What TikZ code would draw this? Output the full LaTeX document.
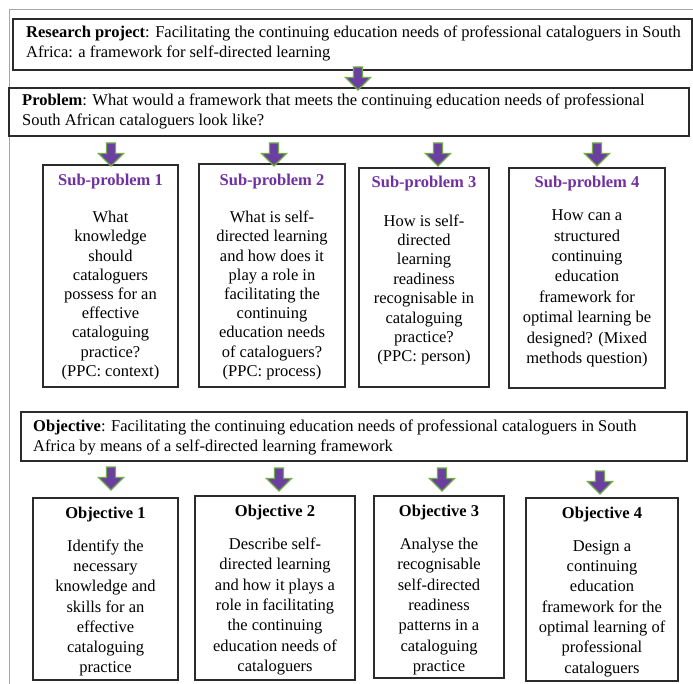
\documentclass[tikz,border=0pt]{standalone}
\usepackage{fontspec}
\setmainfont{Liberation Serif}
\definecolor{hpurple}{HTML}{7030A0}
\definecolor{afill}{HTML}{6B3FA0}
\definecolor{agreen}{HTML}{70AD47}
\definecolor{framegray}{HTML}{A6A6A6}
\definecolor{boxline}{HTML}{2B2B2B}
\tikzset{
  boxnode/.style={draw=boxline, line width=1.3pt, inner sep=0pt, fill=white},
  widetext/.style={anchor=west, align=left, inner sep=0pt, font=\fontsize{16.5}{20}\selectfont},
  headtext/.style={inner sep=0pt, font=\fontsize{16.5}{19}\selectfont\bfseries},
  sphead/.style={headtext, text=hpurple},
  spbody/.style={inner sep=0pt, align=center, font=\fontsize{16.5}{19.2}\selectfont},
  objbody/.style={inner sep=0pt, align=center, font=\fontsize{16.5}{20.3}\selectfont},
  blockarrow/.pic={\filldraw[fill=afill, draw=agreen, line width=1.1pt]
     (-4.5,0) -- (4.5,0) -- (4.5,10.5) -- (12.5,10.5) -- (0,23) -- (-12.5,10.5) -- (-4.5,10.5) -- cycle;}
}
\begin{document}
\begin{tikzpicture}[x=1pt,y=-1pt]
\fill[white] (0,0) rectangle (693,684);
\useasboundingbox (0,0) rectangle (693,684);
% frame
\draw[framegray, line width=1pt] (9,684) -- (9,10) -- (693,10);

% top boxes
\node[boxnode, minimum width=679, minimum height=51] (rp) at (352.5,44.5) {};
\node[boxnode, minimum width=680, minimum height=48] (pb) at (349,112) {};
\node[widetext] (rpt) at (26,43) {\textbf{Research project}: Facilitating the continuing education needs of professional cataloguers in South\\Africa: a framework for self-directed learning};
\node[widetext] (pbt) at (22,111.5) {\textbf{Problem}: What would a framework that meets the continuing education needs of professional\\South African cataloguers look like?};

% sub-problem boxes
\node[boxnode, minimum width=135, minimum height=222] (sp1) at (110.5,276) {};
\node[boxnode, minimum width=146, minimum height=223] (sp2) at (272,275.5) {};
\node[boxnode, minimum width=130, minimum height=219] (sp3) at (424,277.5) {};
\node[boxnode, minimum width=156, minimum height=220] (sp4) at (587,278) {};

\node[sphead] (sp1h) at (110.5,182) {Sub-problem 1};
\node[sphead] (sp2h) at (272,182) {Sub-problem 2};
\node[sphead] (sp3h) at (424,184) {Sub-problem 3};
\node[sphead] (sp4h) at (587,184) {Sub-problem 4};

\node[spbody] (sp1t) at (110.5,295.5) {What\\knowledge\\should\\cataloguers\\possess for an\\effective\\cataloguing\\practice?\\(PPC: context)};
\node[spbody] (sp2t) at (272,295.5) {What is self-\\directed learning\\and how does it\\play a role in\\facilitating the\\continuing\\education needs\\of cataloguers?\\(PPC: process)};
\node[spbody, font=\fontsize{16.5}{19.4}\selectfont] (sp3t) at (424,290) {How is self-\\directed\\learning\\readiness\\recognisable in\\cataloguing\\practice?\\(PPC: person)};
\node[spbody, font=\fontsize{16.5}{20.4}\selectfont] (sp4t) at (587,288.5) {How can a\\structured\\continuing\\education\\framework for\\optimal learning be\\designed? (Mixed\\methods question)};

% objective box
\node[boxnode, minimum width=666, minimum height=49] (ob) at (354,436.5) {};
\node[widetext] (obt) at (33,437.5) {\textbf{Objective}: Facilitating the continuing education needs of professional cataloguers in South\\Africa by means of a self-directed learning framework};

% objective boxes
\node[boxnode, minimum width=145, minimum height=182] (o1) at (105.5,589) {};
\node[boxnode, minimum width=160, minimum height=184] (o2) at (275,588) {};
\node[boxnode, minimum width=130, minimum height=182] (o3) at (439,587) {};
\node[boxnode, minimum width=152, minimum height=183] (o4) at (602,589.5) {};

\node[headtext] (o1h) at (105.5,515) {Objective 1};
\node[headtext] (o2h) at (275,513) {Objective 2};
\node[headtext] (o3h) at (439,513) {Objective 3};
\node[headtext] (o4h) at (602,515) {Objective 4};

\begin{scope}
\clip (33,498) rectangle (178,676);
\node[objbody] (o1t) at (105.5,608) {Identify the\\necessary\\knowledge and\\skills for an\\effective\\cataloguing\\practice};
\end{scope}
\begin{scope}
\clip (195,496) rectangle (355,676);
\node[objbody] (o2t) at (275,606.5) {Describe self-\\directed learning\\and how it plays a\\role in facilitating\\the continuing\\education needs of\\cataloguers};
\end{scope}
\begin{scope}
\clip (374,496) rectangle (504,674);
\node[objbody] (o3t) at (439,606.5) {Analyse the\\recognisable\\self-directed\\readiness\\patterns in a\\cataloguing\\practice};
\end{scope}
\begin{scope}
\clip (526,498) rectangle (678,677);
\node[objbody] (o4t) at (602,608.5) {Design a\\continuing\\education\\framework for the\\optimal learning of\\professional\\cataloguers};
\end{scope}

% block arrows
\pic at (358,67) {blockarrow};
\pic at (111,143) {blockarrow};
\pic at (274,143) {blockarrow};
\pic at (438,143) {blockarrow};
\pic at (597,143) {blockarrow};
\pic at (111,467) {blockarrow};
\pic at (279,468) {blockarrow};
\pic at (442,468) {blockarrow};
\pic at (600,471) {blockarrow};
\end{tikzpicture}
\end{document}
